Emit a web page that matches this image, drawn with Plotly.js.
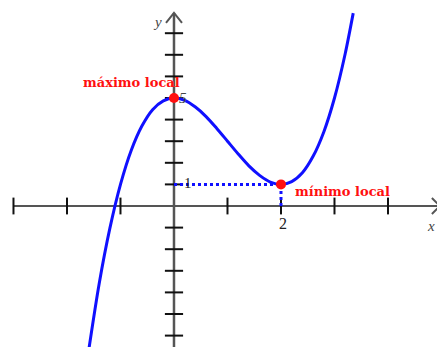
<!DOCTYPE html>
<html>
<head>
<meta charset="utf-8">
<script src="https://cdn.plot.ly/plotly-3.0.1.min.js"></script>
<style>
  html, body { margin: 0; padding: 0; background: #fff; }
  #chart { width: 437px; height: 347px; }
</style>
</head>
<body>
<div id="chart"></div>
<script>
// f(x) = x^3 - 3x^2 + 5, sampled along the visible part of the curve
const curveX = [-1.6, -1.4, -1.2, -1.0, -0.8, -0.6, -0.4, -0.2, 0.0, 0.2, 0.4, 0.6, 0.8,
                1.0, 1.2, 1.4, 1.6, 1.8, 2.0, 2.2, 2.4, 2.6, 2.8, 3.0, 3.2, 3.35];
const curveY = [-6.78, -3.62, -1.05, 1.0, 2.57, 3.70, 4.46, 4.87, 5.0, 4.89, 4.58, 4.14, 3.59,
                3.0, 2.41, 1.86, 1.42, 1.11, 1.0, 1.13, 1.54, 2.30, 3.43, 5.0, 7.05, 8.93];

// critical points
const extremaX = [0, 2];
const extremaY = [5, 1];
const extremaLabels = ['máximo local', 'mínimo local'];

// axis ticks
const xTicks = [-3, -2, -1, 1, 2, 3, 4];
const yTicks = [-6, -5, -4, -3, -2, -1, 1, 2, 3, 4, 5, 6, 7, 8];
const xTickLabels = [{v: 2, t: '2'}];
const yTickLabels = [{v: 5, t: '5'}, {v: 1, t: '1'}];

const xMin = -3, xMax = 4.97, yMin = -6.6, yMax = 8.94;

const blue = '#1010ff';
const red = '#ff1010';
const axisGray = '#555555';
const serif = 'Liberation Serif';
const boldSerif = 'DejaVu Serif';

const traces = [
  // axes
  {x: [xMin, xMax], y: [0, 0], mode: 'lines', line: {color: axisGray, width: 2}, hoverinfo: 'skip'},
  {x: [0, 0], y: [yMin, yMax], mode: 'lines', line: {color: axisGray, width: 2.5}, hoverinfo: 'skip'},
  // tick marks crossing the axes
  {x: xTicks, y: xTicks.map(() => 0), mode: 'markers',
   marker: {symbol: 'line-ns', size: 12, line: {color: '#111', width: 2}}, hoverinfo: 'skip'},
  {x: yTicks.map(() => 0), y: yTicks, mode: 'markers',
   marker: {symbol: 'line-ew', size: 13, line: {color: '#111', width: 2}}, hoverinfo: 'skip'},
  // guide lines to the local minimum
  {x: [0, extremaX[1]], y: [extremaY[1], extremaY[1]], mode: 'lines',
   line: {color: blue, width: 3, dash: 'dot'}, hoverinfo: 'skip'},
  {x: [extremaX[1], extremaX[1]], y: [0, extremaY[1]], mode: 'lines',
   line: {color: blue, width: 3, dash: 'dot'}, hoverinfo: 'skip'},
  // the curve
  {x: curveX, y: curveY, mode: 'lines', line: {color: blue, width: 3, shape: 'spline', smoothing: 0.8}},
  // extrema
  {x: extremaX, y: extremaY, mode: 'markers', marker: {color: red, size: 10}}
];

const annotations = [
  {x: -0.80, y: 5.74, text: extremaLabels[0]},
  {x: 3.15, y: 0.65, text: extremaLabels[1]}
].map(a => Object.assign({
  showarrow: false, xanchor: 'center', yanchor: 'middle',
  font: {family: boldSerif, size: 13, color: red, weight: 'bold'}
}, a));

annotations.push(
  {x: 0.17, y: yTickLabels[0].v, text: yTickLabels[0].t, showarrow: false,
   font: {family: serif, size: 15, color: '#444', style: 'italic'}},
  {x: 0.27, y: yTickLabels[1].v + 0.05, text: yTickLabels[1].t, showarrow: false,
   font: {family: serif, size: 15, color: '#222'}},
  {x: xTickLabels[0].v + 0.03, y: -0.83, text: xTickLabels[0].t, showarrow: false,
   font: {family: serif, size: 16, color: '#222'}},
  {x: -0.30, y: 8.52, text: 'y', showarrow: false,
   font: {family: serif, size: 15, color: '#444', style: 'italic'}},
  {x: 4.91, y: -0.93, text: 'x', showarrow: false, xanchor: 'right',
   font: {family: serif, size: 15, color: '#444', style: 'italic'}}
);

// open arrowheads at the axis ends
const shapes = [
  {type: 'path', xref: 'x', yref: 'y', xsizemode: 'pixel', ysizemode: 'pixel',
   xanchor: 0, yanchor: yMax, path: 'M-8,-10 L0,0 L8,-10',
   line: {color: axisGray, width: 2}},
  {type: 'path', xref: 'x', yref: 'y', xsizemode: 'pixel', ysizemode: 'pixel',
   xanchor: xMax, yanchor: 0, path: 'M-8,-8 L0,0 L-8,8',
   line: {color: axisGray, width: 2}}
];

const layout = {
  width: 437, height: 347,
  margin: {l: 0, r: 0, t: 0, b: 0},
  paper_bgcolor: '#fff', plot_bgcolor: '#fff',
  showlegend: false,
  xaxis: {range: [-3.252, 4.916], visible: false, fixedrange: true},
  yaxis: {range: [-6.528, 9.537], visible: false, fixedrange: true},
  annotations: annotations,
  shapes: shapes
};

Plotly.newPlot('chart', traces, layout, {staticPlot: true, displayModeBar: false});
</script>
</body>
</html>
